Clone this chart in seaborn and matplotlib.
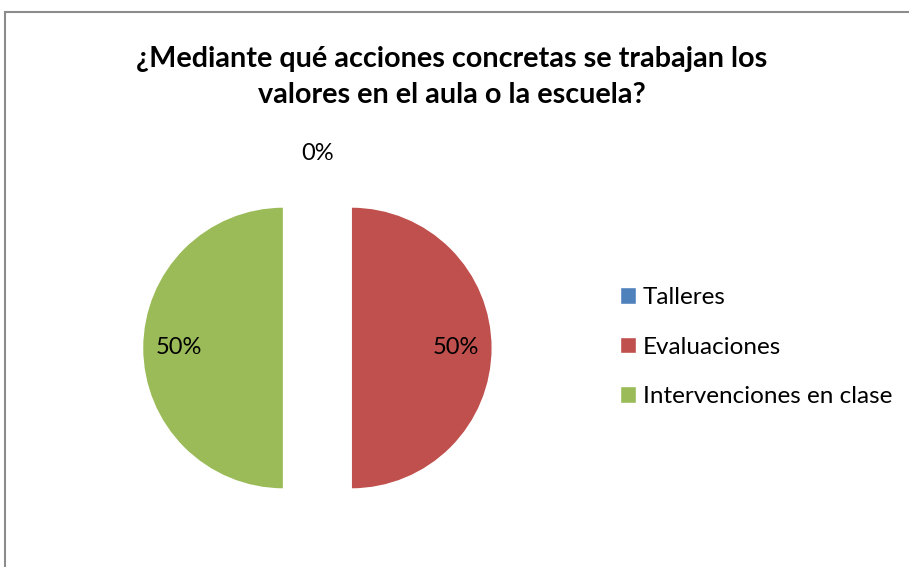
import matplotlib
matplotlib.use('Agg')
import matplotlib.pyplot as plt
from matplotlib.patches import Rectangle
import seaborn as sns

# data
categorias = ['Talleres', 'Evaluaciones', 'Intervenciones en clase']
valores = [0, 50, 50]
colores = ['#4F81BD', '#C0504D', '#9BBB59']
titulo = '¿Mediante qué acciones concretas se trabajan los\nvalores en el aula o la escuela?'

sns.set_theme(style='white')
plt.rcParams['font.family'] = ['Lato', 'DejaVu Sans']
plt.rcParams['text.color'] = 'black'

fig = plt.figure(figsize=(9.09, 5.67), dpi=100)
fig.patch.set_facecolor('white')

# gray chart border (Excel style), cut at right and bottom
fig.patches.append(Rectangle((5 / 909, -0.1), 2, 1 - 12 / 567 + 0.1,
                             transform=fig.transFigure, fill=False,
                             edgecolor='#8c8c8c', linewidth=1.5))

fig.text(0.497, 1 - 77 / 567, titulo, ha='center', va='center',
         fontsize=20.7, fontweight='bold', linespacing=1.45, color='black')

ax = fig.add_axes([105.9 / 909, 7.5 / 567, 423 / 909, 423 / 567])
wedges, texts, autotexts = ax.pie(valores, colors=colores, startangle=90,
                                  counterclock=False, explode=[0.24] * 3,
                                  autopct='%1.0f%%', pctdistance=0.74,
                                  textprops={'fontsize': 17, 'color': 'black'})
ax.set_xlim(-1.5, 1.5)
ax.set_ylim(-1.5, 1.5)
ax.set_aspect('equal')
ax.axis('off')

# zero slice label sits above the pie
for w, t, v in zip(wedges, autotexts, valores):
    if v == 0:
        t.set_position((w.center[0], w.center[1] + 1.14))

leg = fig.legend(wedges, categorias, loc='center left',
                 bbox_to_anchor=(598 / 909, 1 - 347 / 567), frameon=False,
                 fontsize=17.5, handlelength=0.65, handleheight=0.65,
                 handletextpad=0.3, labelspacing=1.17)
for t in leg.get_texts():
    t.set_color('black')

plt.savefig('out.png', dpi=100)
